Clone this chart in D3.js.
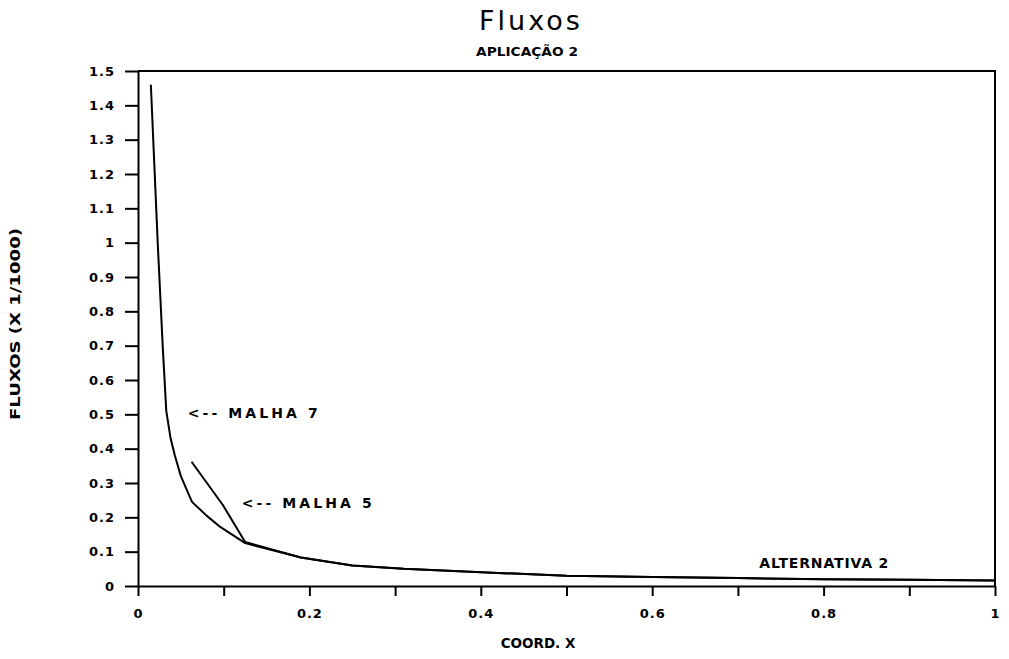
<!DOCTYPE html>
<html>
<head>
<meta charset="utf-8">
<script src="https://cdn.jsdelivr.net/npm/d3@7"></script>
<style>
  html, body { margin: 0; padding: 0; background: #fff; }
  svg { display: block; }
  text { font-family: "DejaVu Sans", sans-serif; fill: #000; }
</style>
</head>
<body>
<svg id="chart"></svg>
<script>
// Values
const malha7X = [0.015, 0.023, 0.029, 0.033, 0.038, 0.043, 0.05, 0.063, 0.08, 0.096, 0.125, 0.19, 0.25, 0.31, 0.42, 0.5, 0.6, 0.7, 0.8, 0.9, 1.0]
const malha7Y = [1.46, 1.0, 0.69, 0.51, 0.43, 0.38, 0.32, 0.245, 0.205, 0.172, 0.125, 0.083, 0.06, 0.05, 0.038, 0.03, 0.026, 0.023, 0.02, 0.018, 0.016]

const malha5X = [0.0625, 0.099, 0.125, 0.19, 0.25, 0.31, 0.42, 0.5, 0.6, 0.7, 0.8, 0.9, 1.0]
const malha5Y = [0.362, 0.236, 0.128, 0.083, 0.06, 0.05, 0.038, 0.03, 0.026, 0.023, 0.02, 0.018, 0.016]

const xTicks = [0, 0.1, 0.2, 0.3, 0.4, 0.5, 0.6, 0.7, 0.8, 0.9, 1]
const xTickLabels = ["0", "", "0.2", "", "0.4", "", "0.6", "", "0.8", "", "1"]
const yTicks = [0, 0.1, 0.2, 0.3, 0.4, 0.5, 0.6, 0.7, 0.8, 0.9, 1, 1.1, 1.2, 1.3, 1.4, 1.5]

const notes = [
  { text: "<-- MALHA 7", x: 0.058, y: 0.503, len: 130 },
  { text: "<-- MALHA 5", x: 0.121, y: 0.242, len: 130 },
  { text: "ALTERNATIVA 2", x: 0.725, y: 0.067, len: 129 }
]

const width = 1009
const height = 659

const svg = d3.select("#chart")
  .attr("width", width)
  .attr("height", height)

const x = d3.scaleLinear().domain([0, 1]).range([138, 995])
const y = d3.scaleLinear().domain([0, 1.5]).range([586, 71])

// Titles
svg.append("text")
  .attr("x", 531)
  .attr("y", 30)
  .attr("text-anchor", "middle")
  .attr("font-size", 27)
  .attr("letter-spacing", 3)
  .text("Fluxos")

svg.append("text")
  .attr("x", 527)
  .attr("y", 56)
  .attr("text-anchor", "middle")
  .attr("font-size", 12.5)
  .attr("font-weight", "bold")
  .attr("textLength", 102)
  .attr("lengthAdjust", "spacingAndGlyphs")
  .text("APLICAÇÃO 2")

// Axes
svg.append("g")
  .attr("transform", `translate(0, ${y(0)})`)
  .call(d3.axisBottom(x)
    .tickValues(xTicks)
    .tickFormat((d, i) => xTickLabels[i])
    .tickSize(10)
    .tickSizeOuter(0)
    .tickPadding(13))
  .call(g => g.select(".domain").attr("stroke-width", 2))
  .call(g => g.selectAll(".tick line").attr("stroke-width", 2))
  .call(g => g.selectAll(".tick text")
    .attr("font-size", 13)
    .attr("font-weight", "bold")
    .attr("letter-spacing", 1))

svg.append("g")
  .attr("transform", `translate(${x(0)}, 0)`)
  .call(d3.axisLeft(y)
    .tickValues(yTicks)
    .tickFormat(d => String(d))
    .tickSize(13)
    .tickSizeOuter(0)
    .tickPadding(10))
  .call(g => g.select(".domain").attr("stroke-width", 2))
  .call(g => g.selectAll(".tick line").attr("stroke-width", 2))
  .call(g => g.selectAll(".tick text")
    .attr("font-size", 13)
    .attr("font-weight", "bold")
    .attr("letter-spacing", 1))

// Frame: top and right edges
svg.append("path")
  .attr("d", `M${x(0)},${y(1.5)}H${x(1)}V${y(0)}`)
  .attr("fill", "none")
  .attr("stroke", "#000")
  .attr("stroke-width", 2)

svg.append("text")
  .attr("transform", "translate(20, 324) rotate(-90)")
  .attr("text-anchor", "middle")
  .attr("font-size", 14)
  .attr("font-weight", "bold")
  .attr("textLength", 192)
  .attr("lengthAdjust", "spacingAndGlyphs")
  .text("FLUXOS (X 1/1000)")

svg.append("text")
  .attr("x", 538)
  .attr("y", 648)
  .attr("text-anchor", "middle")
  .attr("font-size", 13.5)
  .attr("font-weight", "bold")
  .text("COORD. X")

// Curves
const line = d3.line()
  .x(d => x(d[0]))
  .y(d => y(d[1]))

const series = [
  d3.zip(malha7X, malha7Y),
  d3.zip(malha5X, malha5Y)
]

svg.append("g")
  .selectAll("path")
  .data(series)
  .join("path")
  .attr("d", line)
  .attr("fill", "none")
  .attr("stroke", "#000")
  .attr("stroke-width", 2)
  .attr("stroke-linejoin", "round")

// Annotations
svg.append("g")
  .selectAll("text")
  .data(notes)
  .join("text")
  .attr("x", d => x(d.x))
  .attr("y", d => y(d.y))
  .attr("dy", "0.35em")
  .attr("font-size", 14)
  .attr("font-weight", "bold")
  .attr("textLength", d => d.len)
  .attr("lengthAdjust", "spacing")
  .text(d => d.text)
</script>
</body>
</html>
